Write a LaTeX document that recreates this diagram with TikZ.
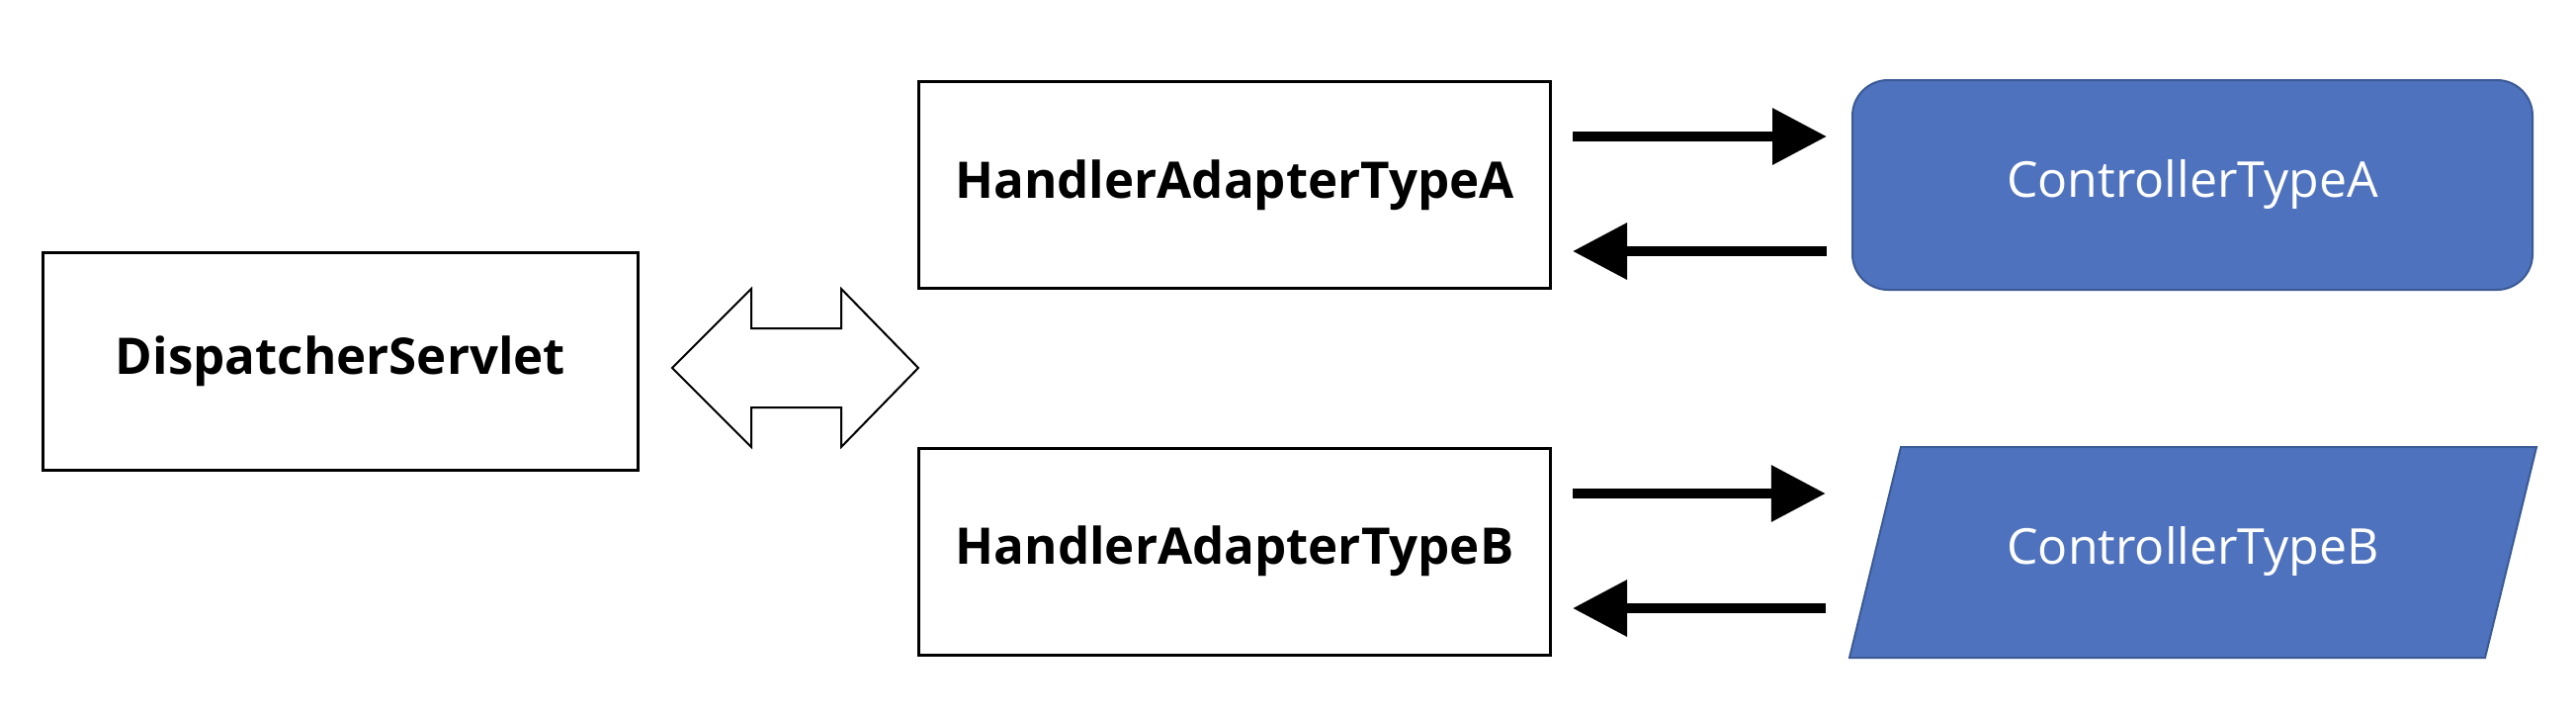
\documentclass[tikz,border=0pt]{standalone}
\usepackage{fontspec}
\setmainfont{Open Sans}
\usetikzlibrary{arrows.meta}
\definecolor{ctrlfill}{HTML}{4E72BD}
\definecolor{ctrldraw}{HTML}{3A5A96}
\begin{document}
\begin{tikzpicture}[x=1pt,y=-1pt,
  whitebox/.style={draw=black,line width=3pt,fill=white,inner sep=0pt,
    font=\fontsize{51}{60}\selectfont\bfseries},
  ctrlbox/.style={fill=ctrlfill,draw=ctrldraw,line width=2pt,inner sep=0pt,
    text=white,font=\fontsize{50}{60}\selectfont},
  bigarrow/.style={line width=10pt,-{Triangle[length=55pt,width=55pt]}}]
\useasboundingbox[fill=white] (0,0) rectangle (2606,726);

\node[whitebox,minimum width=602pt,minimum height=220pt] (ds) at (344.5,365.5) {DispatcherServlet};
\node[whitebox,minimum width=639pt,minimum height=209pt] (hA) at (1249,187) {HandlerAdapterTypeA};
\node[whitebox,minimum width=639pt,minimum height=209pt] (hB) at (1249,557.5) {HandlerAdapterTypeB};

\node[ctrlbox,rounded corners=36pt,minimum width=688pt,minimum height=212pt] (cA) at (2218,187) {ControllerTypeA};

% parallelogram for ControllerTypeB
\coordinate (bTL) at (1923,452);
\coordinate (bTR) at (2566,452);
\coordinate (bBR) at (2514,665);
\coordinate (bBL) at (1871,665);
\fill[ctrlfill,draw=ctrldraw,line width=2pt] (bTL) -- (bTR) -- (bBR) -- (bBL) -- cycle;
\node[inner sep=0pt,minimum width=645pt,minimum height=213pt,text=white,font=\fontsize{50}{60}\selectfont] (cB) at (2218.5,557.5) {ControllerTypeB};

% double arrow between DispatcherServlet and adapters
\draw[line width=2pt,line join=miter,fill=white]
  (680,372) -- (760,292) -- (760,332) -- (851,332) -- (851,292) -- (929,372)
  -- (851,452) -- (851,412) -- (760,412) -- (760,452) -- cycle;

% arrows A
\draw[bigarrow] ([shift={(21,-49)}]hA.east) -- ([shift={(-25,-49)}]cA.west);
\draw[bigarrow] ([shift={(-25,67)}]cA.west) -- ([shift={(21,67)}]hA.east);
% arrows B
\draw[bigarrow] ([shift={(21,-58.5)}]hB.east) -- ([shift={(-49,-58.5)}]cB.west);
\draw[bigarrow] ([shift={(-49,57.5)}]cB.west) -- ([shift={(21,57.5)}]hB.east);
\end{tikzpicture}
\end{document}
